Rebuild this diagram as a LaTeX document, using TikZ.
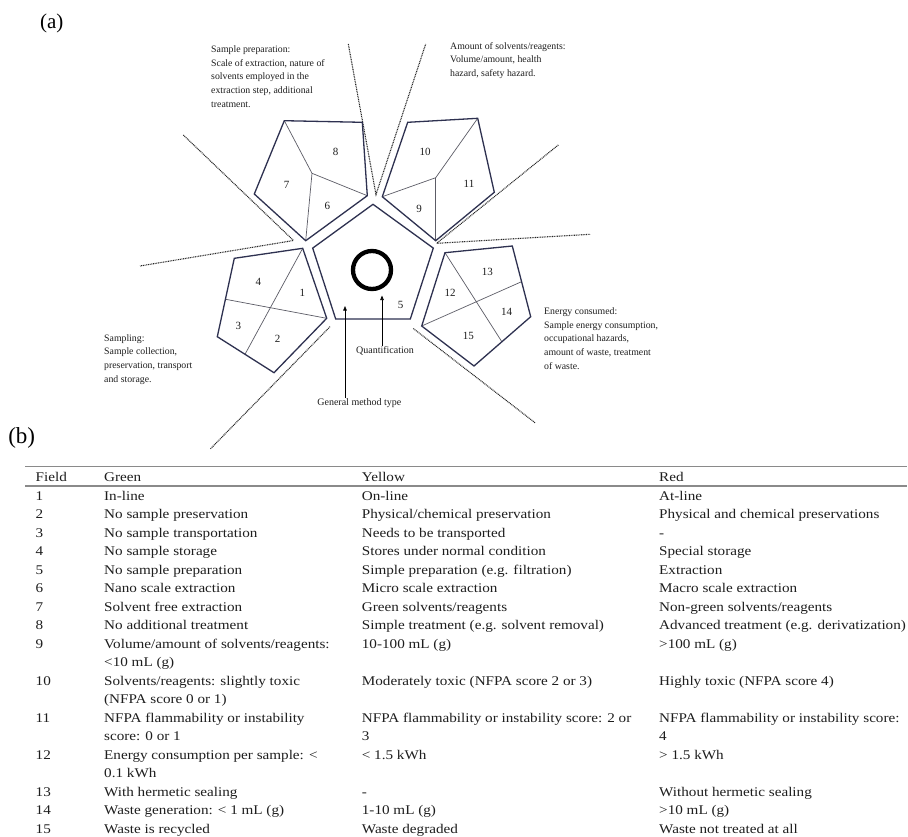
\documentclass[tikz,border=0pt]{standalone}
\usepackage{fontspec}
\usepackage{graphicx}
\setmainfont{Liberation Serif}
\usetikzlibrary{arrows.meta}
\definecolor{penc}{HTML}{2E3150}
\definecolor{divc}{HTML}{5C5C66}
\definecolor{rulec}{HTML}{8A8A8A}
\definecolor{txtc}{HTML}{1E1E1E}
\newcommand\sx[1]{\scalebox{1.14}[1]{#1}}
\newcommand\tc[4]{\node[tcell] (#1) at (#2,{481.7+18.5*#3}) {\sx{#4}};}
\begin{document}
\begin{tikzpicture}[x=1pt,y=-1pt,
  outl/.style={draw=penc, line width=1.3pt, line join=miter},
  divl/.style={draw=divc, line width=0.7pt},
  dotl/.style={draw=black!85, line width=1.1pt, dash pattern=on 0.9pt off 0.8pt},
  num/.style={font=\fontsize{11}{13}\selectfont, inner sep=0, text=txtc},
  lab/.style={font=\fontsize{9.8}{13.7}\selectfont, align=left, anchor=base west, inner sep=0, text=txtc},
  clab/.style={font=\fontsize{10}{12}\selectfont, inner sep=0.5pt, text=txtc},
  arr/.style={draw=black, line width=0.7pt, -{Triangle[length=4.5pt,width=3.5pt]}},
  tcell/.style={font=\fontsize{13.3}{18.5}\selectfont, anchor=base west, inner sep=0, text=txtc},
  trule/.style={draw=rulec, line width=1.1pt}]
\useasboundingbox (0,0) rectangle (908,836);
\fill[white] (0,0) rectangle (908,836);

% panel labels
\node[font=\fontsize{21}{24}\selectfont, inner sep=0] (pa) at (51.7,23.3) {(a)};
\node[font=\fontsize{23}{26}\selectfont, inner sep=0] (pb) at (21.7,438.3) {(b)};

% dotted separators
\coordinate (v1) at (376,194.5);
\coordinate (v1l) at (348.3,44);
\coordinate (v1r) at (425.7,44);
\coordinate (v2) at (293.5,240.5);
\coordinate (v2u) at (183.3,135);
\coordinate (v2l) at (140,266);
\coordinate (v3) at (436.7,243.3);
\coordinate (v3u) at (558.3,145);
\coordinate (v3r) at (590,234.3);
\coordinate (l4a) at (330,326.7);
\coordinate (l4b) at (210,449.3);
\coordinate (l5a) at (413.3,328.5);
\coordinate (l5b) at (535,422.7);
\draw[dotl] (v1l) -- (v1) -- (v1r);
\draw[dotl] (v2u) -- (v2) -- (v2l);
\draw[dotl] (v3u) -- (v3) -- (v3r);
\draw[dotl] (l4a) -- (l4b);
\draw[dotl] (l5a) -- (l5b);

% central pentagon
\coordinate (ca) at (373,204.3);
\coordinate (cb) at (433.3,248.1);
\coordinate (cc) at (410.3,319);
\coordinate (cd) at (335.7,319);
\coordinate (ce) at (312.7,248.1);
\draw[outl] (ca) -- (cb) -- (cc) -- (cd) -- (ce) -- cycle;
\draw[line width=4.3pt, black] (372,270) circle[radius=19];
\node[num] (n5) at (400.7,305) {5};

% upper-left pentagon (6,7,8)
\coordinate (ula) at (284.3,120.7);
\coordinate (ulb) at (362.3,122.3);
\coordinate (ulc) at (367.3,195.7);
\coordinate (uld) at (305.7,240.7);
\coordinate (ule) at (254.3,194);
\coordinate (uli) at (312,173.3);
\draw[divl] (ula) -- (uli) -- (ulc);
\draw[divl] (uli) -- (uld);
\draw[outl] (ula) -- (ulb) -- (ulc) -- (uld) -- (ule) -- cycle;
\node[num] (n8) at (335.7,151.7) {8};
\node[num] (n7) at (286.7,185.3) {7};
\node[num] (n6) at (327.3,206) {6};

% upper-right pentagon (9,10,11)
\coordinate (ura) at (407.7,122.3);
\coordinate (urb) at (477.7,118.3);
\coordinate (urc) at (494.3,192.3);
\coordinate (urd) at (435.7,240.7);
\coordinate (ure) at (382.3,196.7);
\coordinate (uri) at (435.7,177.7);
\draw[divl] (urb) -- (uri) -- (ure);
\draw[divl] (uri) -- (urd);
\draw[outl] (ura) -- (urb) -- (urc) -- (urd) -- (ure) -- cycle;
\node[num] (n10) at (425,151.7) {10};
\node[num] (n11) at (469,184) {11};
\node[num] (n9) at (419,209) {9};

% left pentagon (1-4)
\coordinate (lpa) at (234.3,258.3);
\coordinate (lpb) at (302.7,248.3);
\coordinate (lpc) at (326.7,318.3);
\coordinate (lpd) at (274,372.7);
\coordinate (lpe) at (217.3,336.7);
\coordinate (lpf) at (245,354.3);
\coordinate (lpg) at (225.7,299.3);
\draw[divl] (lpb) -- (lpf);
\draw[divl] (lpg) -- (lpc);
\draw[outl] (lpa) -- (lpb) -- (lpc) -- (lpd) -- (lpe) -- cycle;
\node[num] (n4) at (258.3,282.3) {4};
\node[num] (n1) at (302.3,292.7) {1};
\node[num] (n3) at (238.3,326) {3};
\node[num] (n2) at (277.7,339) {2};

% right pentagon (12-15)
\coordinate (rpa) at (445,252.7);
\coordinate (rpb) at (512.3,246);
\coordinate (rpc) at (530.7,316.7);
\coordinate (rpd) at (474,366);
\coordinate (rpe) at (421.7,326);
\coordinate (rpf) at (501.7,341.5);
\coordinate (rpg) at (521.5,281.7);
\draw[divl] (rpa) -- (rpf);
\draw[divl] (rpe) -- (rpg);
\draw[outl] (rpa) -- (rpb) -- (rpc) -- (rpd) -- (rpe) -- cycle;
\node[num] (n13) at (487.3,272.3) {13};
\node[num] (n12) at (450,292.7) {12};
\node[num] (n14) at (506.7,312.3) {14};
\node[num] (n15) at (468.3,335.7) {15};

% arrows and labels
\node[clab] (qlab) at (385,351) {Quantification};
\node[clab] (glab) at (359.3,403.3) {General method type};
\coordinate (qtip) at (382,295.5);
\coordinate (gtip) at (345,306);
\draw[arr] (qlab.north -| qtip) -- (qtip);
\draw[arr] (glab.north -| gtip) -- (gtip);

% descriptive texts (anchor = baseline of last line)
\node[lab] (tprep) at (211,107.1) {Sample preparation:\\Scale of extraction, nature of\\solvents employed in the\\extraction step, additional\\treatment.};
\node[lab] (tamount) at (450,76.4) {Amount of solvents/reagents:\\Volume/amount, health\\hazard, safety hazard.};
\node[lab] (tsamp) at (104,382.1) {Sampling:\\Sample collection,\\preservation, transport\\and storage.};
\node[lab] (tenergy) at (544,369.1) {Energy consumed:\\Sample energy consumption,\\occupational hazards,\\amount of waste, treatment\\of waste.};

% table rules
\coordinate (tr1l) at (25,466.7);
\coordinate (tr1r) at (907,466.7);
\coordinate (tr2l) at (25,486);
\coordinate (tr2r) at (907,486);
\draw[trule] (tr1l) -- (tr1r);
\draw[trule] (tr2l) -- (tr2r);

% table content
\tc{h0}{35.5}{0}{Field}
\tc{h1}{104}{0}{Green}
\tc{h2}{361.7}{0}{Yellow}
\tc{h3}{659}{0}{Red}
\tc{f1}{35.5}{1}{1}\tc{g1}{104}{1}{In-line}\tc{y1}{361.7}{1}{On-line}\tc{r1}{659}{1}{At-line}
\tc{f2}{35.5}{2}{2}\tc{g2}{104}{2}{No sample preservation}\tc{y2}{361.7}{2}{Physical/chemical preservation}\tc{r2}{659}{2}{Physical and chemical preservations}
\tc{f3}{35.5}{3}{3}\tc{g3}{104}{3}{No sample transportation}\tc{y3}{361.7}{3}{Needs to be transported}\tc{r3}{659}{3}{-}
\tc{f4}{35.5}{4}{4}\tc{g4}{104}{4}{No sample storage}\tc{y4}{361.7}{4}{Stores under normal condition}\tc{r4}{659}{4}{Special storage}
\tc{f5}{35.5}{5}{5}\tc{g5}{104}{5}{No sample preparation}\tc{y5}{361.7}{5}{Simple preparation (e.g. filtration)}\tc{r5}{659}{5}{Extraction}
\tc{f6}{35.5}{6}{6}\tc{g6}{104}{6}{Nano scale extraction}\tc{y6}{361.7}{6}{Micro scale extraction}\tc{r6}{659}{6}{Macro scale extraction}
\tc{f7}{35.5}{7}{7}\tc{g7}{104}{7}{Solvent free extraction}\tc{y7}{361.7}{7}{Green solvents/reagents}\tc{r7}{659}{7}{Non-green solvents/reagents}
\tc{f8}{35.5}{8}{8}\tc{g8}{104}{8}{No additional treatment}\tc{y8}{361.7}{8}{Simple treatment (e.g. solvent removal)}\tc{r8}{659}{8}{Advanced treatment (e.g. derivatization)}
\tc{f9}{35.5}{9}{9}\tc{g9}{104}{9}{Volume/amount of solvents/reagents:}\tc{g9b}{104}{10}{<10 mL (g)}\tc{y9}{361.7}{9}{10-100 mL (g)}\tc{r9}{659}{9}{>100 mL (g)}
\tc{f10}{35.5}{11}{10}\tc{g10}{104}{11}{Solvents/reagents: slightly toxic}\tc{g10b}{104}{12}{(NFPA score 0 or 1)}\tc{y10}{361.7}{11}{Moderately toxic (NFPA score 2 or 3)}\tc{r10}{659}{11}{Highly toxic (NFPA score 4)}
\tc{f11}{35.5}{13}{11}\tc{g11}{104}{13}{NFPA flammability or instability}\tc{g11b}{104}{14}{score: 0 or 1}\tc{y11}{361.7}{13}{NFPA flammability or instability score: 2 or}\tc{y11b}{361.7}{14}{3}\tc{r11}{659}{13}{NFPA flammability or instability score:}\tc{r11b}{659}{14}{4}
\tc{f12}{35.5}{15}{12}\tc{g12}{104}{15}{Energy consumption per sample: <}\tc{g12b}{104}{16}{0.1 kWh}\tc{y12}{361.7}{15}{< 1.5 kWh}\tc{r12}{659}{15}{> 1.5 kWh}
\tc{f13}{35.5}{17}{13}\tc{g13}{104}{17}{With hermetic sealing}\tc{y13}{361.7}{17}{-}\tc{r13}{659}{17}{Without hermetic sealing}
\tc{f14}{35.5}{18}{14}\tc{g14}{104}{18}{Waste generation: < 1 mL (g)}\tc{y14}{361.7}{18}{1-10 mL (g)}\tc{r14}{659}{18}{>10 mL (g)}
\tc{f15}{35.5}{19}{15}\tc{g15}{104}{19}{Waste is recycled}\tc{y15}{361.7}{19}{Waste degraded}\tc{r15}{659}{19}{Waste not treated at all}
\end{tikzpicture}
\end{document}
